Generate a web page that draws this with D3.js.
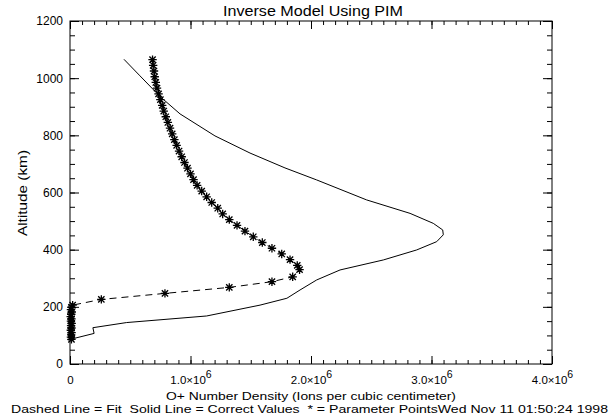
<!DOCTYPE html>
<html><head><meta charset="utf-8">
<script src="https://cdn.jsdelivr.net/npm/d3@7"></script>
<style>body{margin:0;background:#fff}svg{display:block}text{font-family:"Liberation Sans",Arial,sans-serif;fill:#000;white-space:pre}</style>
</head><body><svg id="c" width="610" height="417"></svg>
<script>
// ---- data ----
const titleText = "Inverse Model Using PIM";
const xTitle = "O+ Number Density (Ions per cubic centimeter)";
const yTitle = "Altitude (km)";
const footer = "Dashed Line = Fit  Solid Line = Correct Values  * = Parameter PointsWed Nov 11 01:50:24 1998";
const xTickValues = [0, 1e6, 2e6, 3e6, 4e6];
const xTickLabels = ["0", "1.0×10^6", "2.0×10^6", "3.0×10^6", "4.0×10^6"];
const yTickValues = [0, 200, 400, 600, 800, 1000, 1200];
const yTickLabels = ["0", "200", "400", "600", "800", "1000", "1200"];

// solid line = correct values
const solidAlt = [86, 107, 127, 145, 168, 206, 230, 259, 294, 329, 364, 399, 428, 452, 469, 492, 527, 574, 644, 686, 738, 798, 875, 936, 1008, 1066];
const solidX = [0.0, 0.20e6, 0.19e6, 0.47e6, 1.134e6, 1.577e6, 1.80e6, 1.909e6, 2.047e6, 2.241e6, 2.60e6, 2.877e6, 3.043e6, 3.098e6, 3.093e6, 3.015e6, 2.822e6, 2.462e6, 2.047e6, 1.784e6, 1.494e6, 1.203e6, 0.913e6, 0.747e6, 0.581e6, 0.448e6];

// parameter points (fit), ordered from top to bottom
const starAlt = [1065, 1045, 1025, 1005, 985, 965, 945, 925, 905, 885, 865, 845, 825, 805, 785, 765, 745, 725, 705, 685, 665, 645, 625, 605, 585, 565, 545, 525, 505, 485, 465, 445, 425, 405, 385, 365, 345, 330, 305, 288, 268, 247, 226, 206, 198, 190, 182, 174, 166, 158, 150, 142, 134, 126, 118, 110, 102, 94, 86];
const starX = [0.685e6, 0.690e6, 0.697e6, 0.703e6, 0.712e6, 0.722e6, 0.735e6, 0.750e6, 0.765e6, 0.778e6, 0.795e6, 0.812e6, 0.830e6, 0.848e6, 0.866e6, 0.885e6, 0.905e6, 0.927e6, 0.950e6, 0.975e6, 1.000e6, 1.025e6, 1.055e6, 1.093e6, 1.134e6, 1.176e6, 1.226e6, 1.267e6, 1.322e6, 1.386e6, 1.452e6, 1.521e6, 1.596e6, 1.676e6, 1.757e6, 1.826e6, 1.886e6, 1.905e6, 1.848e6, 1.676e6, 1.322e6, 0.788e6, 0.260e6, 0.022e6, 0.012e6, 0.008e6, 0.015e6, 0.010e6, 0.006e6, 0.012e6, 0.008e6, 0.014e6, 0.009e6, 0.012e6, 0.007e6, 0.013e6, 0.010e6, 0.008e6, 0.012e6];

// ---- chart ----
const svg = d3.select("#c");
const L = 70, R = 552, T = 21, B = 364;
const x = d3.scaleLinear().domain([0, 4e6]).range([L, R]);
const y = d3.scaleLinear().domain([0, 1200]).range([B, T]);

const xMinor = d3.range(0, 41).map(i => i * 1e5);
const yMinor = d3.range(0, 25).map(i => i * 50);

function styleAxis(g) {
  g.select(".domain").remove();
  g.selectAll("line").attr("stroke", "#000").attr("stroke-width", 1);
}
// bottom
svg.append("g").attr("transform", `translate(0,${B})`)
  .call(d3.axisBottom(x).tickValues(xMinor).tickSize(-4).tickFormat("")).call(styleAxis);
const bx = svg.append("g").attr("transform", `translate(0,${B})`)
  .call(d3.axisBottom(x).tickValues(xTickValues).tickSize(-8).tickPadding(12)
    .tickFormat((d, i) => xTickLabels[i])).call(styleAxis);
bx.selectAll("text").attr("font-size", 11.5).attr("fill", "#000").each(function(d, i) {
  const lab = xTickLabels[i];
  const t = d3.select(this);
  if (lab.includes("^")) {
    const [base, exp] = lab.split("^");
    t.text(null);
    t.append("tspan").text(base);
    t.append("tspan").attr("dy", -6).attr("font-size", 10.5).text(exp);
  }
});
// top
svg.append("g").attr("transform", `translate(0,${T})`)
  .call(d3.axisTop(x).tickValues(xMinor).tickSize(-4).tickFormat("")).call(styleAxis);
svg.append("g").attr("transform", `translate(0,${T})`)
  .call(d3.axisTop(x).tickValues(xTickValues).tickSize(-8).tickFormat("")).call(styleAxis);
// left
svg.append("g").attr("transform", `translate(${L},0)`)
  .call(d3.axisLeft(y).tickValues(yMinor).tickSize(-5).tickFormat("")).call(styleAxis);
const ly = svg.append("g").attr("transform", `translate(${L},0)`)
  .call(d3.axisLeft(y).tickValues(yTickValues).tickSize(-9).tickPadding(7)
    .tickFormat((d, i) => yTickLabels[i])).call(styleAxis);
ly.selectAll("text").attr("font-size", 12).attr("fill", "#000").attr("x", -7);
// right
svg.append("g").attr("transform", `translate(${R},0)`)
  .call(d3.axisRight(y).tickValues(yMinor).tickSize(-5).tickFormat("")).call(styleAxis);
svg.append("g").attr("transform", `translate(${R},0)`)
  .call(d3.axisRight(y).tickValues(yTickValues).tickSize(-9).tickFormat("")).call(styleAxis);

// frame
svg.append("rect").attr("x", L).attr("y", T).attr("width", R - L).attr("height", B - T)
  .attr("fill", "none").attr("stroke", "#000").attr("stroke-width", 1);

// solid line
const solidData = solidX.map((v, i) => [v, solidAlt[i]]);
svg.append("path").datum(solidData)
  .attr("d", d3.line().x(d => x(d[0])).y(d => y(d[1])))
  .attr("fill", "none").attr("stroke", "#000").attr("stroke-width", 1);

// dashed fit line
const starData = starX.map((v, i) => [v, starAlt[i]]);
svg.append("path").datum(starData)
  .attr("d", d3.line().x(d => x(d[0])).y(d => y(d[1])))
  .attr("fill", "none").attr("stroke", "#000").attr("stroke-width", 1)
  .attr("stroke-dasharray", "7,5");

// asterisks
const r = 4.2;
const sg = svg.append("g").attr("stroke", "#000").attr("stroke-width", 1.3);
starData.forEach(d => {
  const cx = x(d[0]), cy = y(d[1]);
  sg.append("path").attr("d",
    `M${cx - r},${cy}H${cx + r}M${cx},${cy - r}V${cy + r}` +
    `M${cx - r * 0.75},${cy - r * 0.75}L${cx + r * 0.75},${cy + r * 0.75}` +
    `M${cx - r * 0.75},${cy + r * 0.75}L${cx + r * 0.75},${cy - r * 0.75}`);
});

// texts
svg.append("text").attr("x", 313).attr("y", 16).attr("text-anchor", "middle")
  .attr("font-size", 14).attr("textLength", 180).attr("lengthAdjust", "spacingAndGlyphs").text(titleText);
svg.append("text").attr("x", 311).attr("y", 400).attr("text-anchor", "middle")
  .attr("font-size", 11.5).attr("textLength", 290).attr("lengthAdjust", "spacingAndGlyphs").text(xTitle);
svg.append("text").attr("x", 11).attr("y", 413)
  .attr("font-size", 11.5).attr("textLength", 597).attr("lengthAdjust", "spacingAndGlyphs").text(footer);
svg.append("text").attr("transform", "translate(27,193) rotate(-90)").attr("text-anchor", "middle")
  .attr("font-size", 12).attr("textLength", 86).attr("lengthAdjust", "spacingAndGlyphs").text(yTitle);
</script></body></html>
